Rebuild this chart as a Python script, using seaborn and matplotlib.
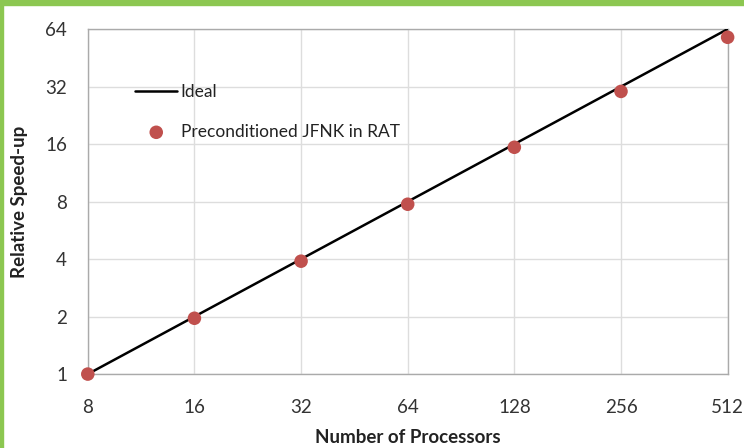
import matplotlib
matplotlib.use("Agg")
import matplotlib.pyplot as plt
import matplotlib.ticker as mticker
import seaborn as sns
import pandas as pd

processors = [8, 16, 32, 64, 128, 256, 512]
ideal = [1, 2, 4, 8, 16, 32, 64]
speedup = [1.0, 1.96, 3.9, 7.75, 15.4, 30.2, 58.0]
y_ticks = [1, 2, 4, 8, 16, 32, 64]

sns.set_style("white")
plt.rcParams['font.family'] = ['Lato', 'DejaVu Sans']

df = pd.DataFrame({'Processors': processors, 'Ideal': ideal, 'Speedup': speedup})

fig = plt.figure(figsize=(7.44, 4.48), dpi=100)
ax = fig.add_axes([0.118, 0.165, 0.86, 0.77])

sns.lineplot(data=df, x='Processors', y='Ideal', color='black', linewidth=1.8,
             label='Ideal', ax=ax, zorder=3)
sns.scatterplot(data=df, x='Processors', y='Speedup', color='#c0504d', s=95,
                edgecolor='none', label='Preconditioned JFNK in RAT', ax=ax, zorder=4,
                clip_on=False)

ax.set_xscale('log', base=2)
ax.set_yscale('log', base=2)
ax.set_xlim(8, 512)
ax.set_ylim(1, 64)
ax.xaxis.set_major_locator(mticker.FixedLocator(processors))
ax.yaxis.set_major_locator(mticker.FixedLocator(y_ticks))
ax.xaxis.set_minor_locator(mticker.NullLocator())
ax.yaxis.set_minor_locator(mticker.NullLocator())
ax.set_xticklabels([str(p) for p in processors])
ax.set_yticklabels([str(v) for v in y_ticks])
ax.tick_params(axis='both', length=0, labelsize=13.5, colors='#333333')
ax.tick_params(axis='x', pad=18)
ax.tick_params(axis='y', pad=15)

ax.grid(True, color='#dddddd', linewidth=1)
for s in ax.spines.values():
    s.set_color('#aaaaaa')
    s.set_linewidth(1)

ax.set_xlabel('Number of Processors', fontsize=13.5, fontweight='bold', color='#222222', labelpad=9)
ax.set_ylabel('Relative Speed-up', fontsize=13.5, fontweight='bold', color='#222222', labelpad=12)

ax.legend(loc='upper left', bbox_to_anchor=(0.05, 0.885), frameon=False, fontsize=12.5,
          handlelength=2.4, labelspacing=1.35, handletextpad=0.2, labelcolor='#222222')

# green frame on top and left edges
fig.patches.append(plt.Rectangle((0, 0.988), 1, 0.012, transform=fig.transFigure,
                                 color='#8cc751', zorder=0))
fig.patches.append(plt.Rectangle((0, 0), 0.004, 1, transform=fig.transFigure,
                                 color='#8cc751', zorder=0))

fig.savefig('out.png', dpi=100)
